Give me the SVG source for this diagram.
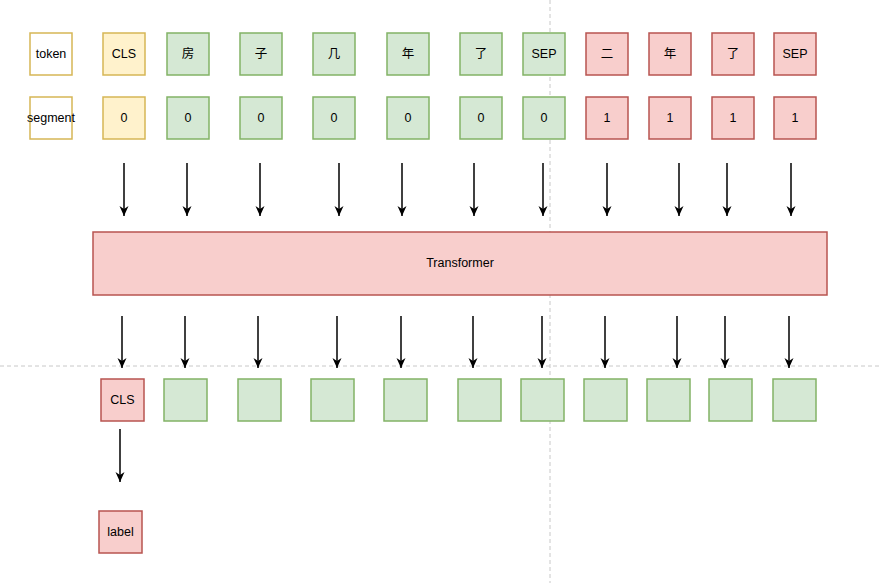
<svg xmlns="http://www.w3.org/2000/svg" width="880" height="583" viewBox="0 0 880 583">
<style>
text{font-family:"Liberation Sans","Noto Sans CJK SC",Arial,sans-serif;font-size:12.5px;fill:#000;text-anchor:middle;dominant-baseline:central}
.lab rect{fill:#fff;stroke:#d6b656;stroke-width:1.5}
.y rect{fill:#fff2cc;stroke:#d6b656;stroke-width:1.5}
.g rect{fill:#d5e8d4;stroke:#82b366;stroke-width:1.5}
.r rect{fill:#f8cecc;stroke:#b85450;stroke-width:1.5}
.guide{stroke:#c8c8c8;stroke-width:1;stroke-dasharray:4 3;fill:none}
#connectors line{stroke:#000;stroke-width:1.5;marker-end:url(#arr)}
</style>
<defs>
<marker id="arr" markerUnits="userSpaceOnUse" viewBox="0 0 10 10" refX="10" refY="5" markerWidth="10" markerHeight="10" orient="auto">
<path d="M0,0.5 L10,5 L0,9.5 L3,5 z" fill="#000"/>
</marker>
</defs>
<rect width="880" height="583" fill="#fff"/>
<g id="guides">
<line class="guide" x1="550" y1="0" x2="550" y2="583"/>
<line class="guide" x1="0" y1="366" x2="880" y2="366"/>
</g>
<g id="n-token" class="lab"><rect x="30" y="33" width="42" height="42"/><text x="51" y="54">token</text></g>
<g id="n-segment" class="lab"><rect x="30" y="97" width="42" height="42"/><text x="51" y="118">segment</text></g>
<g id="t1" class="y"><rect x="103" y="33" width="42" height="42"/><text x="124" y="54">CLS</text></g>
<g id="t2" class="g"><rect x="167" y="33" width="42" height="42"/><text x="188" y="54">房</text></g>
<g id="t3" class="g"><rect x="240" y="33" width="42" height="42"/><text x="261" y="54">子</text></g>
<g id="t4" class="g"><rect x="313" y="33" width="42" height="42"/><text x="334" y="54">几</text></g>
<g id="t5" class="g"><rect x="387" y="33" width="42" height="42"/><text x="408" y="54">年</text></g>
<g id="t6" class="g"><rect x="460" y="33" width="42" height="42"/><text x="481" y="54">了</text></g>
<g id="t7" class="g"><rect x="523" y="33" width="42" height="42"/><text x="544" y="54">SEP</text></g>
<g id="t8" class="r"><rect x="586" y="33" width="42" height="42"/><text x="607" y="54">二</text></g>
<g id="t9" class="r"><rect x="649" y="33" width="42" height="42"/><text x="670" y="54">年</text></g>
<g id="t10" class="r"><rect x="712" y="33" width="42" height="42"/><text x="733" y="54">了</text></g>
<g id="t11" class="r"><rect x="774" y="33" width="42" height="42"/><text x="795" y="54">SEP</text></g>
<g id="s1" class="y"><rect x="103" y="97" width="42" height="42"/><text x="124" y="118">0</text></g>
<g id="s2" class="g"><rect x="167" y="97" width="42" height="42"/><text x="188" y="118">0</text></g>
<g id="s3" class="g"><rect x="240" y="97" width="42" height="42"/><text x="261" y="118">0</text></g>
<g id="s4" class="g"><rect x="313" y="97" width="42" height="42"/><text x="334" y="118">0</text></g>
<g id="s5" class="g"><rect x="387" y="97" width="42" height="42"/><text x="408" y="118">0</text></g>
<g id="s6" class="g"><rect x="460" y="97" width="42" height="42"/><text x="481" y="118">0</text></g>
<g id="s7" class="g"><rect x="523" y="97" width="42" height="42"/><text x="544" y="118">0</text></g>
<g id="s8" class="r"><rect x="586" y="97" width="42" height="42"/><text x="607" y="118">1</text></g>
<g id="s9" class="r"><rect x="649" y="97" width="42" height="42"/><text x="670" y="118">1</text></g>
<g id="s10" class="r"><rect x="712" y="97" width="42" height="42"/><text x="733" y="118">1</text></g>
<g id="s11" class="r"><rect x="774" y="97" width="42" height="42"/><text x="795" y="118">1</text></g>
<g id="transformer" class="r"><rect x="93" y="232" width="734" height="63"/><text x="460" y="263">Transformer</text></g>
<g id="o1" class="r"><rect x="101" y="379" width="43" height="42"/><text x="122.5" y="400">CLS</text></g>
<g id="o2" class="g"><rect x="164" y="379" width="43" height="42"/></g>
<g id="o3" class="g"><rect x="238" y="379" width="43" height="42"/></g>
<g id="o4" class="g"><rect x="311" y="379" width="43" height="42"/></g>
<g id="o5" class="g"><rect x="384" y="379" width="43" height="42"/></g>
<g id="o6" class="g"><rect x="458" y="379" width="43" height="42"/></g>
<g id="o7" class="g"><rect x="521" y="379" width="43" height="42"/></g>
<g id="o8" class="g"><rect x="584" y="379" width="43" height="42"/></g>
<g id="o9" class="g"><rect x="647" y="379" width="43" height="42"/></g>
<g id="o10" class="g"><rect x="709" y="379" width="43" height="42"/></g>
<g id="o11" class="g"><rect x="773" y="379" width="43" height="42"/></g>
<g id="label" class="r"><rect x="99" y="511" width="43" height="42"/><text x="120.5" y="532">label</text></g>
<g id="connectors">
<line x1="124" y1="163" x2="124" y2="216"/>
<line x1="187" y1="163" x2="187" y2="216"/>
<line x1="260" y1="163" x2="260" y2="216"/>
<line x1="339" y1="163" x2="339" y2="216"/>
<line x1="402" y1="163" x2="402" y2="216"/>
<line x1="474" y1="163" x2="474" y2="216"/>
<line x1="543" y1="163" x2="543" y2="216"/>
<line x1="607" y1="163" x2="607" y2="216"/>
<line x1="679" y1="163" x2="679" y2="216"/>
<line x1="727" y1="163" x2="727" y2="216"/>
<line x1="791" y1="163" x2="791" y2="216"/>
<line x1="122" y1="316" x2="122" y2="368"/>
<line x1="185" y1="316" x2="185" y2="368"/>
<line x1="258" y1="316" x2="258" y2="368"/>
<line x1="337" y1="316" x2="337" y2="368"/>
<line x1="401" y1="316" x2="401" y2="368"/>
<line x1="473" y1="316" x2="473" y2="368"/>
<line x1="542" y1="316" x2="542" y2="368"/>
<line x1="605" y1="316" x2="605" y2="368"/>
<line x1="677" y1="316" x2="677" y2="368"/>
<line x1="725" y1="316" x2="725" y2="368"/>
<line x1="789" y1="316" x2="789" y2="368"/>
<line x1="120" y1="429" x2="120" y2="482"/>
</g>
</svg>
